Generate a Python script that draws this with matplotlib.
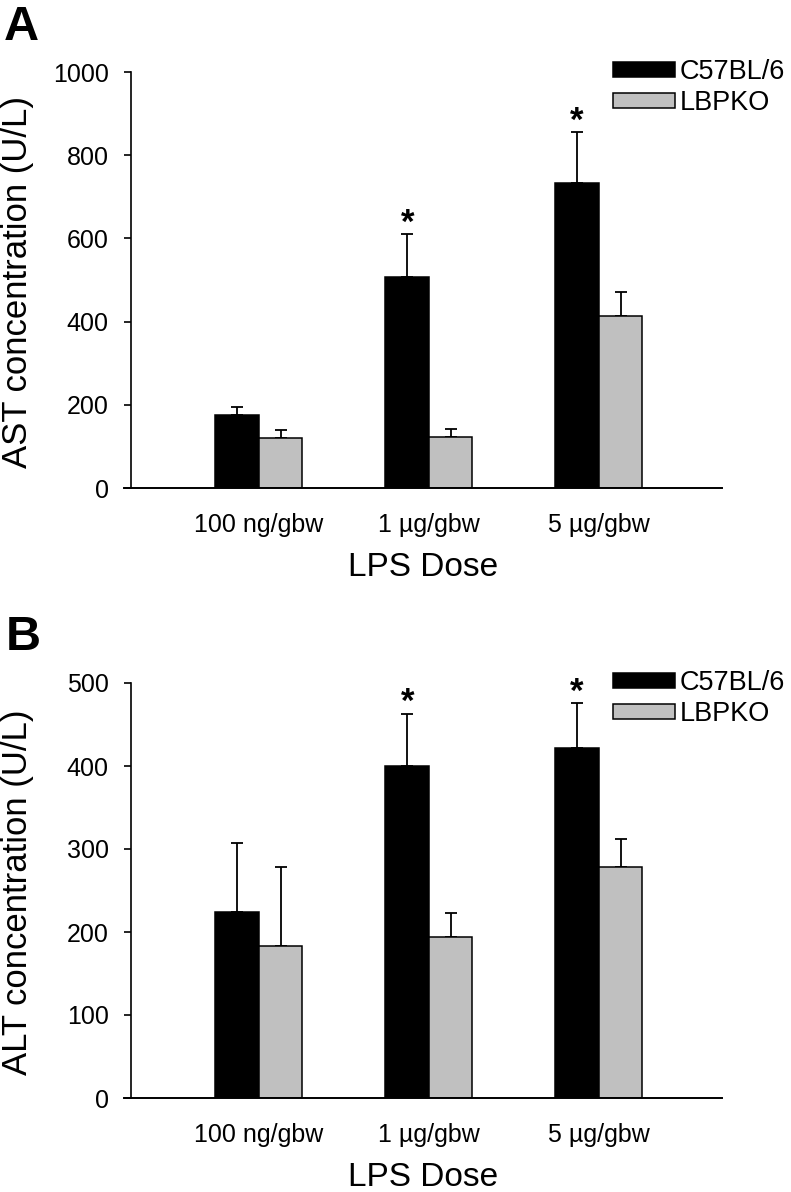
import numpy as np
import matplotlib
matplotlib.use("Agg")
import matplotlib.pyplot as plt

plt.rcParams["font.family"] = ["Liberation Sans", "DejaVu Sans"]

# ── data ──────────────────────────────────────────────────────────────────────
doses = ["100 ng/gbw", "1 \u00b5g/gbw", "5 \u00b5g/gbw"]
groups = ["C57BL/6", "LBPKO"]

ast_wt = [176, 508, 733]
ast_wt_err = [19, 102, 122]
ast_ko = [120, 123, 414]
ast_ko_err = [20, 19, 56]

alt_wt = [224, 400, 422]
alt_wt_err = [83, 63, 54]
alt_ko = [183, 194, 278]
alt_ko_err = [95, 29, 34]

sig_idx = [1, 2]   # doses where C57BL/6 differs (*)

COLORS = ["#000000", "#c0c0c0"]
W = 0.256

fig = plt.figure(figsize=(7.91, 11.92), dpi=100)
ax_a = fig.add_axes([124 / 791, 1 - 488 / 1192, 598 / 791, 416 / 1192])
ax_b = fig.add_axes([124 / 791, 1 - 1098 / 1192, 598 / 791, 415 / 1192])


def panel(ax, wt, wt_err, ko, ko_err, ymax, step, ylabel, letter, letter_pos, ylab_y):
    x = np.arange(len(doses))
    for vals, errs, col, off, name in [(wt, wt_err, COLORS[0], -W / 2, groups[0]),
                                       (ko, ko_err, COLORS[1], W / 2, groups[1])]:
        ax.bar(x + off, vals, W, color=col, edgecolor="black", linewidth=1.1,
               label=name, zorder=2)
        ax.errorbar(x + off, vals, yerr=[np.zeros(len(vals)), errs], fmt="none",
                    ecolor="black", elinewidth=1.3, capsize=4, capthick=1.3, zorder=1)
    for i in sig_idx:
        ax.annotate("*", xy=(x[i] - W / 2, wt[i] + wt_err[i]), xytext=(0, 1),
                    textcoords="offset points", ha="center", va="baseline",
                    fontsize=25, fontweight="bold")

    ax.set_xlim(-0.794, 2.724)
    ax.set_ylim(0, ymax)
    ax.spines["top"].set_visible(False)
    ax.spines["right"].set_visible(False)
    ax.spines["left"].set_position(("data", -0.753))
    ax.spines["left"].set_linewidth(1.2)
    ax.spines["bottom"].set_linewidth(1.4)
    ax.set_yticks(np.arange(0, ymax + 1, step))
    ax.tick_params(axis="y", length=5, width=1.2, labelsize=18, pad=11)
    ax.set_xticks(x)
    ax.set_xticklabels(doses)
    ax.tick_params(axis="x", length=0, labelsize=18, pad=18)
    ax.set_xlabel("LPS Dose", fontsize=24, labelpad=11)
    fig.text(18 / 791, ylab_y, ylabel, rotation=90, ha="center", va="center",
             fontsize=25)
    fig.text(letter_pos[0], letter_pos[1], letter, fontsize=35, fontweight="bold")

    ax.legend(loc="upper left", bbox_to_anchor=(0.818, 1.032), frameon=False,
              fontsize=19.5, handlelength=2.3, handleheight=0.48,
              handletextpad=0.15, labelspacing=0.2, borderpad=0,
              borderaxespad=0)


panel(ax_a, ast_wt, ast_wt_err, ast_ko, ast_ko_err, 1000, 200,
      "AST concentration (U/L)", "A", (4 / 791, 1 - 40 / 1192), 1 - 282 / 1192)
panel(ax_b, alt_wt, alt_wt_err, alt_ko, alt_ko_err, 500, 100,
      "ALT concentration (U/L)", "B", (6 / 791, 1 - 650 / 1192), 1 - 892 / 1192)

fig.savefig("out.png", dpi=100, facecolor="white")
